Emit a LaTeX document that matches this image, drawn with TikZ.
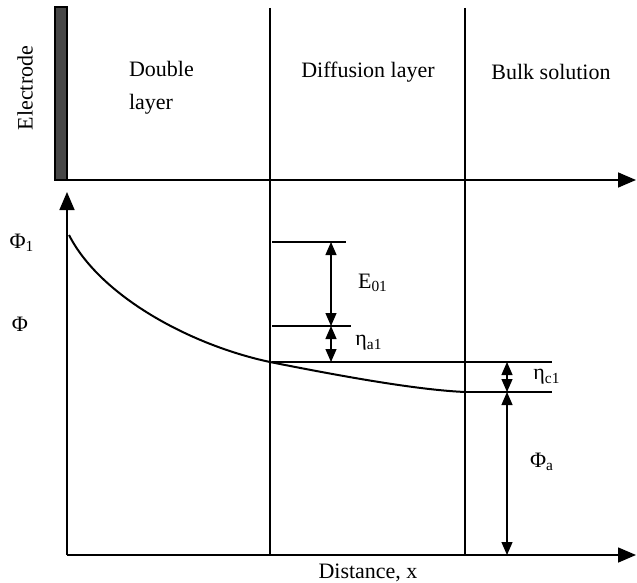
\documentclass[tikz,border=0pt]{standalone}
\usepackage{fontspec}
\setmainfont{Liberation Serif}
\usetikzlibrary{arrows.meta}

\begin{document}
\begin{tikzpicture}[x=0.5pt, y=-0.5pt, font=\fontsize{11}{16.5}\selectfont,
		axis/.style={-{Triangle[length=9pt,width=7.5pt]}, line width=0.8pt},
		dim/.style={{Triangle[length=6.5pt,width=5.5pt]}-{Triangle[length=6.5pt,width=5.5pt]}, line width=0.6pt},
		lvl/.style={line width=0.55pt}]
	\useasboundingbox (0,0) rectangle (637,583);
	% ---- electrode and regions ----
	\draw[fill=black!72, line width=0.6pt] (55,7) rectangle (67,180);
	\node[rotate=90] (electrode) at (25,88) {Electrode};
	\node[anchor=west, align=left] (dbl) at (122,88) {Double\\layer};
	\node (diff) at (368,72) {Diffusion layer};
	\node (bulk) at (551,72) {Bulk solution};
	\draw[lvl] (270,8) -- (270,555);
	\draw[lvl] (465,8) -- (465,555);
	% ---- axes ----
	\coordinate (o) at (67,555);
	\draw[axis] (55,180) -- (636,180);
	\draw[axis] (o) -- (636,555);
	\draw[axis] (o) -- (67,192);
	\node (dist) at (368,573) {Distance, x};
	\node (phi1) at (22,243) {Φ\textsubscript{1}};
	\node (phi) at (20,324) {Φ};
	% ---- potential profile ----
	\draw[line width=1pt] (69,235) .. controls (100,296) and (190,345) .. (270,362)
		.. controls (350,378) and (420,390) .. (465,392);
	% ---- levels ----
	\coordinate (e0) at (331,242);
	\coordinate (e1) at (331,326);
	\coordinate (e2) at (331,362);
	\coordinate (c1) at (507,362);
	\coordinate (c2) at (507,392);
	\coordinate (c3) at (507,555);
	\draw[lvl] (272,242) -- (346,242);
	\draw[lvl] (272,326) -- (351,326);
	\draw[lvl] (272,362) -- (552,362);
	\draw[lvl] (465,392) -- (552,392);
	\draw[dim] (e0) -- (e1);
	\draw[dim] (e1) -- (e2);
	\draw[dim] (c1) -- (c2);
	\draw[dim] (c2) -- (c3);
	\node (E01) at (373,283) {E\textsubscript{01}};
	\node (etaa) at (369,343) {η\textsubscript{a1}};
	\node (etac) at (547,377) {η\textsubscript{c1}};
	\node (phia) at (542,462) {Φ\textsubscript{a}};
\end{tikzpicture}
\end{document}
